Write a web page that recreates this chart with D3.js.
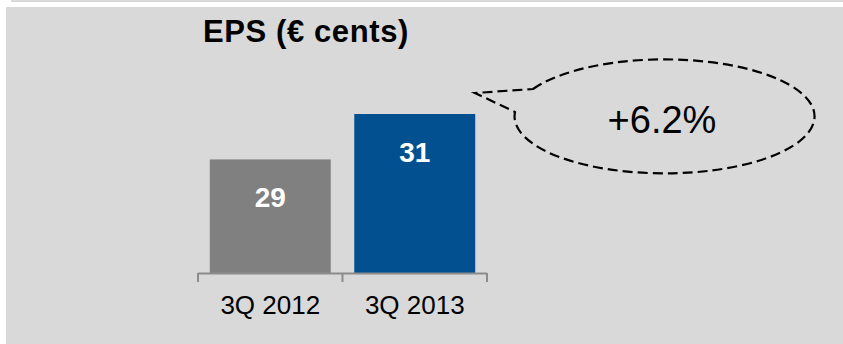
<!DOCTYPE html>
<html>
<head>
<meta charset="utf-8">
<script src="https://cdn.jsdelivr.net/npm/d3@7"></script>
<style>
  html, body { margin: 0; padding: 0; background: #ffffff; }
  svg { display: block; font-family: "Liberation Sans", Arial, Helvetica, sans-serif; }
</style>
</head>
<body>
<svg id="chart" width="843" height="344"></svg>
<script>
// ---- data ----
const categories = ["3Q 2012", "3Q 2013"];
const values = [29, 31];
const valueLabels = ["29", "31"];
const barColors = ["#808080", "#02508f"];
const title = "EPS (€ cents)";
const growthLabel = "+6.2%";
const yDomain = [24, 31];

// ---- layout ----
const svg = d3.select("#chart");
const W = 843, H = 344;

svg.append("rect").attr("x", 11).attr("y", 0).attr("width", W - 11).attr("height", 2).attr("fill", "#d9d9d9");
svg.append("rect").attr("x", 6).attr("y", 7).attr("width", W - 6).attr("height", H - 7).attr("fill", "#d9d9d9");

const x = d3.scaleBand().domain(categories).range([198, 487]).paddingInner(0.163).paddingOuter(0.0815);
const y = d3.scaleLinear().domain(yDomain).range([273, 114]);

// bars
svg.selectAll("rect.bar").data(values).enter().append("rect")
  .attr("class", "bar")
  .attr("x", (d, i) => x(categories[i]))
  .attr("width", x.bandwidth())
  .attr("y", d => y(d))
  .attr("height", d => y.range()[0] - y(d))
  .attr("fill", (d, i) => barColors[i]);

// value labels
svg.selectAll("text.val").data(values).enter().append("text")
  .attr("class", "val")
  .attr("x", (d, i) => x(categories[i]) + x.bandwidth() / 2)
  .attr("y", d => y(d) + 48)
  .attr("text-anchor", "middle")
  .attr("font-weight", "bold")
  .attr("font-size", 28)
  .attr("fill", "#ffffff")
  .text((d, i) => valueLabels[i]);

// axis
const axisG = svg.append("g").attr("transform", `translate(0,${y.range()[0]})`);
const r = x.range();
axisG.append("line").attr("x1", r[0]).attr("x2", r[1]).attr("y1", 0.5).attr("y2", 0.5)
  .attr("stroke", "#8c8c8c").attr("stroke-width", 2);
const tickXs = [r[0]].concat(categories.map(c => x(c) + x.bandwidth() + x.step() * x.paddingInner() / 2));
tickXs[tickXs.length - 1] = r[1];
axisG.selectAll("line.tick").data(tickXs).enter().append("line")
  .attr("class", "tick")
  .attr("x1", d => d).attr("x2", d => d).attr("y1", 0).attr("y2", 9)
  .attr("stroke", "#8c8c8c").attr("stroke-width", 2);
axisG.selectAll("text.cat").data(categories).enter().append("text")
  .attr("class", "cat")
  .attr("x", d => x(d) + x.bandwidth() / 2)
  .attr("y", 41)
  .attr("text-anchor", "middle")
  .attr("font-size", 26)
  .attr("fill", "#000")
  .text(d => d);

// title
svg.append("text").attr("x", 203).attr("y", 42)
  .attr("font-weight", "bold").attr("font-size", 31).attr("letter-spacing", 0.6).attr("fill", "#000")
  .text(title);

// speech bubble
const cx = 662, cy = 120, rx = 150, ry = 57;
const p1 = [533, 89], p2 = [515, 112], tip = [475, 93];
svg.append("path")
  .attr("d", `M${p1[0]},${p1[1]} A${rx},${ry} 0 1 1 ${p2[0]},${p2[1]} L${tip[0]},${tip[1]} Z`)
  .attr("fill", "none").attr("stroke", "#000").attr("stroke-width", 2.2)
  .attr("stroke-dasharray", "10,5");
svg.append("text").attr("x", cx).attr("y", 133)
  .attr("text-anchor", "middle").attr("font-size", 38).attr("fill", "#000")
  .text(growthLabel);
</script>
</body>
</html>
